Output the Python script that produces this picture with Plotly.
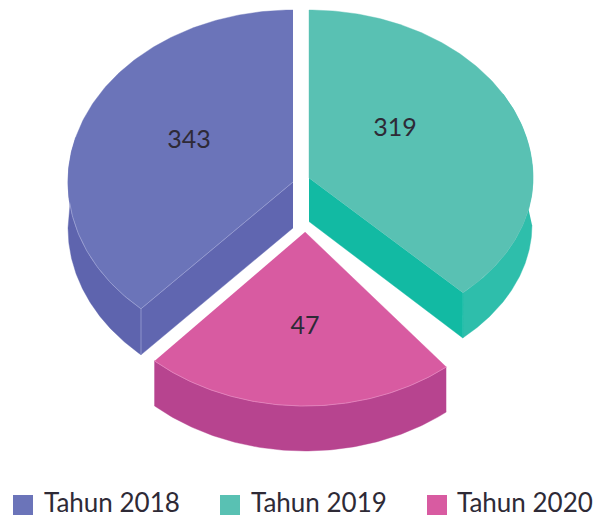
import numpy as np
import plotly.graph_objects as go

categories = ["Tahun 2018", "Tahun 2019", "Tahun 2020"]
values = [343, 319, 47]
# Drawn wedge extents (degrees clockwise from 12 o'clock).
# The artwork's wedges are not proportional to the values.
wedge_start = [222.5, 0.0, 140.9]
wedge_end = [360.0, 136.6, 222.2]

top_colors = ["#6B74B9", "#59C1B3", "#D85BA1"]
side_colors = ["#5E64AE", "#2EBEAB", "#B7448F"]
cut_colors = ["#6066B0", "#12BAA3", "#B7448F"]
rim_colors = ["#A4A8D8", None, "#E78DC3"]

# pie geometry, screen pixels: apex x, apex y, rx, ry upper, ry lower, depth
geometry = [
    dict(cx=293, cy=182, rx=225, ryu=172, ryl=172, depth=46),
    dict(cx=309, cy=178, rx=224, ryu=168, ryl=158, depth=43.5),
    dict(cx=305, cy=232, rx=224, ryu=174, ryl=174, depth=45),
]
# lower edge of each outer wall: an ellipse of its own, with its angle range
wall_edge = [
    dict(cx=293, cy=228, rx=225, ry=172, a0=222.5, a1=270),
    dict(cx=309, cy=225, rx=223, ry=156, a0=90, a1=136.4),
    dict(cx=305, cy=277, rx=224, ry=174, a0=140.9, a1=222.2),
]
wall_rim = [(222.5, 285), (60, 136.6), (140.9, 222.2)]
label_angle = [298.4, 51.6, 180.0]
label_frac = [0.525, 0.49, 0.534]
LABEL_DROP = 3
# key layout, screen pixels
key_square_x = [23, 230, 437]
key_text_x = [44, 251, 457]
KEY_Y = 505
KEY_TEXT_Y = 505
FONT = "Lato, 'Open Sans', sans-serif"
INK = "#2E2A36"


def arc(g, a0, a1, n=160):
    t = np.radians(np.linspace(a0, a1, n))
    c = np.cos(t)
    ry = np.where(c >= 0, g["ryu"], g["ryl"])
    return g["cx"] + g["rx"] * np.sin(t), g["cy"] - ry * c


def edge(w, n=120):
    t = np.radians(np.linspace(w["a0"], w["a1"], n))
    return w["cx"] + w["rx"] * np.sin(t), w["cy"] - w["ry"] * np.cos(t)


def poly(x, y, color):
    return go.Scatter(x=list(x), y=list(y), mode="lines", fill="toself",
                      fillcolor=color, line=dict(width=0.4, color=color),
                      hoverinfo="skip", showlegend=False)


def stroke(x, y, color):
    return go.Scatter(x=list(x), y=list(y), mode="lines",
                      line=dict(width=0.7, color=color),
                      hoverinfo="skip", showlegend=False)


fig = go.Figure()
for i in range(3):
    g = geometry[i]
    ax, ay = arc(g, wedge_start[i], wedge_end[i])
    d = g["depth"]
    # outer wall
    rx_, ry_ = arc(g, wall_rim[i][0], wall_rim[i][1])
    bx_, by_ = edge(wall_edge[i])
    fig.add_trace(poly(np.r_[rx_, bx_[::-1]], np.r_[ry_, by_[::-1]], side_colors[i]))
    # visible cut wall
    if i == 0:
        ex, ey = ax[0], ay[0]
        fig.add_trace(poly([g["cx"], ex, ex, g["cx"]], [g["cy"], ey, by_[0], g["cy"] + d], cut_colors[i]))
    elif i == 1:
        ex, ey = ax[-1], ay[-1]
        fig.add_trace(poly([g["cx"], ex, bx_[-1], g["cx"]], [g["cy"], ey, by_[-1], g["cy"] + d], cut_colors[i]))
    # top face
    fig.add_trace(poly(np.r_[g["cx"], ax], np.r_[g["cy"], ay], top_colors[i]))
    # highlight edges
    if i == 0:
        lo = np.linspace(wedge_start[i], wedge_end[i], 160) < 264
        fig.add_trace(stroke(np.r_[ax[lo][::-1], ax[0], g["cx"]], np.r_[ay[lo][::-1], ay[0], g["cy"]], rim_colors[i]))
        fig.add_trace(stroke([ax[0], ax[0]], [ay[0], by_[0]], rim_colors[i]))
    elif i == 2:
        fig.add_trace(stroke(ax, ay, rim_colors[i]))

# value labels
for i in range(3):
    g = geometry[i]
    t = np.radians(label_angle[i])
    c = np.cos(t)
    ry = g["ryu"] if c >= 0 else g["ryl"]
    fig.add_trace(go.Scatter(
        x=[g["cx"] + label_frac[i] * g["rx"] * np.sin(t)],
        y=[g["cy"] - label_frac[i] * ry * c + LABEL_DROP],
        mode="text", text=[str(values[i])], textposition="middle center",
        textfont=dict(family=FONT, size=25, color=INK),
        hoverinfo="skip", showlegend=False))

# key: one square and one text per category
for i in range(3):
    fig.add_trace(go.Scatter(
        x=[key_square_x[i]], y=[KEY_Y], mode="markers", name=categories[i],
        marker=dict(symbol="square", size=20, color=top_colors[i], line=dict(width=0)),
        hoverinfo="skip", showlegend=False, cliponaxis=False))
    fig.add_trace(go.Scatter(
        x=[key_text_x[i]], y=[KEY_TEXT_Y], mode="text", text=[categories[i]],
        textposition="middle right", name=categories[i],
        textfont=dict(family=FONT, size=26, color=INK),
        hoverinfo="skip", showlegend=False, cliponaxis=False))

fig.update_layout(
    width=595, height=516,
    margin=dict(l=0, r=0, t=0, b=0),
    paper_bgcolor="white", plot_bgcolor="white", showlegend=False,
    xaxis=dict(range=[0, 595], visible=False, fixedrange=True),
    yaxis=dict(range=[516, 0], visible=False, fixedrange=True),
)
fig.write_html("out.html", config=dict(displayModeBar=False),
               post_script="document.body.style.margin='0';")
